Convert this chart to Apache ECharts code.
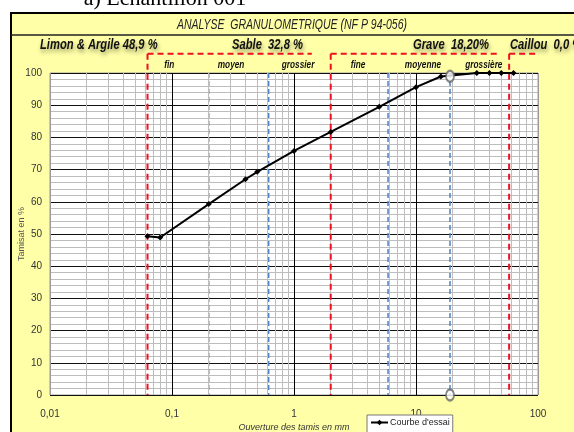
<!DOCTYPE html>
<html><head><meta charset="utf-8">
<script src="https://cdn.jsdelivr.net/npm/echarts@6/dist/echarts.min.js"></script>
<style>html,body{margin:0;padding:0;background:#fff}#c{width:574px;height:432px}</style>
</head><body><div id="c"></div>
<script>
// Grain-size test: sieve openings (mm) and cumulative passing (%)
const sieveSizes = [0.063, 0.08, 0.2, 0.4, 0.5, 1, 2, 5, 10, 16, 31.5, 40, 50, 63];
const passing    = [49.3, 48.9, 59.3, 67.0, 69.3, 75.8, 81.7, 89.5, 95.6, 98.9, 100, 100, 100, 100];

// Dmax marker (hollow circles at top and bottom of the Dmax line)
const dmaxSize = 19;
const dmaxMarks = [99, 0];

// Fraction limits (mm)
const mainLimits = [0.063, 2, 58];          // red dashed: silt/sand, sand/gravel, gravel/cobble
const subLimits  = [0.2, 0.62, 5.9, 19];    // blue dashed: sub-fractions
const bracketSpans = [[0.063, 1.4], [2, 47], [58, 98]];
const bracketLevel = 106;                   // % level of the bracket tops

const subNames = ['fin', 'moyen', 'grossier', 'fine', 'moyenne', 'grossière'];
const subNameAt = [0.095, 0.305, 1.08, 3.35, 11.4, 36];

const fractionNames = ['Limon & Argile 48,9 %', 'Sable  32,8 %', 'Grave  18,20%', 'Caillou  0,0 %'];
const xTickLabels = ['0,01', '0,1', '1', '10', '100'];
const yTickLabels = ['0', '10', '20', '30', '40', '50', '60', '70', '80', '90', '100'];

const NARROW = "'Liberation Sans Narrow','Liberation Sans',sans-serif";

// minor log gridlines 2..9 within each decade
const minorX = [];
[0.01, 0.1, 1, 10].forEach(d => { for (let k = 2; k <= 9; k++) minorX.push(+(d * k).toPrecision(3)); });

const chart = echarts.init(document.getElementById('c'), null, {renderer: 'canvas'});
chart.setOption({
  animation: false,
  backgroundColor: '#FFFFA8',
  grid: {left: 50, right: 36, top: 73, bottom: 37, show: true, backgroundColor: '#fff',
         borderColor: '#9a9a9a', borderWidth: 1, containLabel: false, outerBoundsMode: 'none'},
  legend: {
    data: ["Courbe d'essai"], left: 367, top: 415, backgroundColor: '#fff',
    borderColor: '#777', borderWidth: 1, borderRadius: 0, padding: [3, 3, 6, 3],
    itemWidth: 17, itemHeight: 7, itemGap: 2,
    textStyle: {fontSize: 9, color: '#222', fontFamily: NARROW, padding: [0, 0, 0, -3]}
  },
  xAxis: {
    type: 'log', logBase: 10, min: 0.01, max: 100,
    axisLine: {show: false}, axisTick: {show: false},
    axisLabel: {margin: 14, fontSize: 10, color: '#333', fontFamily: NARROW,
      formatter: v => xTickLabels[Math.round(Math.log10(v)) + 2]},
    splitLine: {show: true, lineStyle: {color: ['#9a9a9a', '#000', '#000', '#000', '#9a9a9a'], width: 1}},
    name: 'Ouverture des tamis en mm', nameLocation: 'middle', nameGap: 28, nameMoveOverlap: false,
    nameTextStyle: {fontSize: 9, fontStyle: 'italic', color: '#333', fontFamily: NARROW}
  },
  yAxis: {
    type: 'value', min: 0, max: 100, interval: 10,
    axisLine: {show: false}, axisTick: {show: false},
    axisLabel: {margin: 8, fontSize: 10, color: '#333', fontFamily: NARROW,
      formatter: v => yTickLabels[Math.round(v / 10)]},
    splitLine: {show: true, lineStyle: {color: '#111', width: 1.2}},
    minorTick: {show: false, splitNumber: 5},
    minorSplitLine: {show: true, lineStyle: {color: '#bdbdbd', width: 1}},
    name: 'Tamisat en %', nameLocation: 'middle', nameGap: 24, nameRotate: 90, nameMoveOverlap: false,
    nameTextStyle: {fontSize: 9, color: '#555', fontFamily: NARROW}
  },
  series: [
    {
      type: 'line', data: [], silent: true, z: 1,
      markLine: {silent: true, symbol: ['none', 'none'], label: {show: false},
        lineStyle: {color: '#bdbdbd', type: 'solid', width: 1},
        emphasis: {disabled: true},
        data: minorX.map(v => ({xAxis: v}))}
    },
    {
      name: "Courbe d'essai", type: 'line', z: 10, clip: false,
      data: sieveSizes.map((s, i) => [s, passing[i]]),
      symbol: 'diamond', symbolSize: 6,
      itemStyle: {color: '#000'}, lineStyle: {color: '#000', width: 2}
    },
    {
      type: 'scatter', z: 11, clip: false,
      data: dmaxMarks.map(v => [dmaxSize, v]),
      symbol: 'circle', symbolSize: [8, 11],
      itemStyle: {color: '#fff', borderColor: '#666', borderWidth: 2}
    }
  ]
});

const px = (x, y) => chart.convertToPixel({gridIndex: 0}, [x, y]);
const g = [];
// white margins outside the chart frame
g.push({type: 'rect', shape: {x: 0, y: 0, width: 574, height: 13}, style: {fill: '#fff'}, z: 0});
g.push({type: 'rect', shape: {x: 0, y: 0, width: 11, height: 432}, style: {fill: '#fff'}, z: 0});
// frame lines
g.push({type: 'line', shape: {x1: 11, y1: 13, x2: 11, y2: 432}, style: {stroke: '#000', lineWidth: 2}, z: 5});
g.push({type: 'line', shape: {x1: 10, y1: 13, x2: 574, y2: 13}, style: {stroke: '#000', lineWidth: 2}, z: 5});
g.push({type: 'line', shape: {x1: 11, y1: 35, x2: 574, y2: 35}, style: {stroke: '#222', lineWidth: 1.5}, z: 5});
// caption and title
g.push({type: 'text', x: 165, y: 10, z: 4, style: {text: 'a) Echantillon 001', fontSize: 22,
  fontFamily: "'Liberation Serif','DejaVu Serif',serif", fill: '#000', align: 'center', verticalAlign: 'bottom'}});
g.push({type: 'text', x: 292, y: 25, z: 6, scaleX: 0.75, style: {text: 'ANALYSE  GRANULOMETRIQUE (NF P 94-056)',
  fontSize: 14, fontStyle: 'italic', fontFamily: NARROW, fill: '#222', align: 'center', verticalAlign: 'middle'}});
// fraction headings
const headX = [40, 232, 413, 510];
fractionNames.forEach((t, i) => g.push({type: 'text', x: headX[i], y: 45, z: 6, scaleX: 0.8, style: {
  text: t, fontSize: 14, fontWeight: 'bold', fontStyle: 'italic', fontFamily: NARROW, fill: '#111',
  align: 'left', verticalAlign: 'middle', textShadowColor: 'rgba(0,0,0,0.4)', textShadowBlur: 4,
  textShadowOffsetX: 1, textShadowOffsetY: 3}}));
// sub-fraction names
subNames.forEach((t, i) => {
  const p = px(subNameAt[i], 102.5);
  g.push({type: 'text', x: p[0], y: p[1], z: 6, scaleX: 0.75, style: {text: t, fontSize: 11, fontStyle: 'italic',
    fontWeight: 'bold', fontFamily: NARROW, fill: '#111', align: 'center', verticalAlign: 'middle'}});
});
// red dashed fraction limits and bracket tops
mainLimits.forEach(v => {
  const a = px(v, bracketLevel), b = px(v, 0);
  g.push({type: 'line', z: 7, shape: {x1: a[0], y1: a[1], x2: b[0], y2: b[1]},
    style: {stroke: '#f01020', lineWidth: 2, lineDash: [6, 4]}});
});
bracketSpans.forEach(s => {
  const a = px(s[0], bracketLevel), b = px(s[1], bracketLevel);
  g.push({type: 'line', z: 7, shape: {x1: a[0], y1: a[1], x2: b[0], y2: b[1]},
    style: {stroke: '#f01020', lineWidth: 2, lineDash: [6, 4]}});
});
// blue dashed sub-fraction limits
subLimits.forEach(v => {
  const a = px(v, 100), b = px(v, 0);
  g.push({type: 'line', z: 4, shape: {x1: a[0], y1: a[1], x2: b[0], y2: b[1]},
    style: {stroke: '#4f81c4', lineWidth: 1.5, lineDash: [5, 3]}});
});
chart.setOption({graphic: g.map(e => Object.assign({silent: true}, e))});
</script></body></html>
